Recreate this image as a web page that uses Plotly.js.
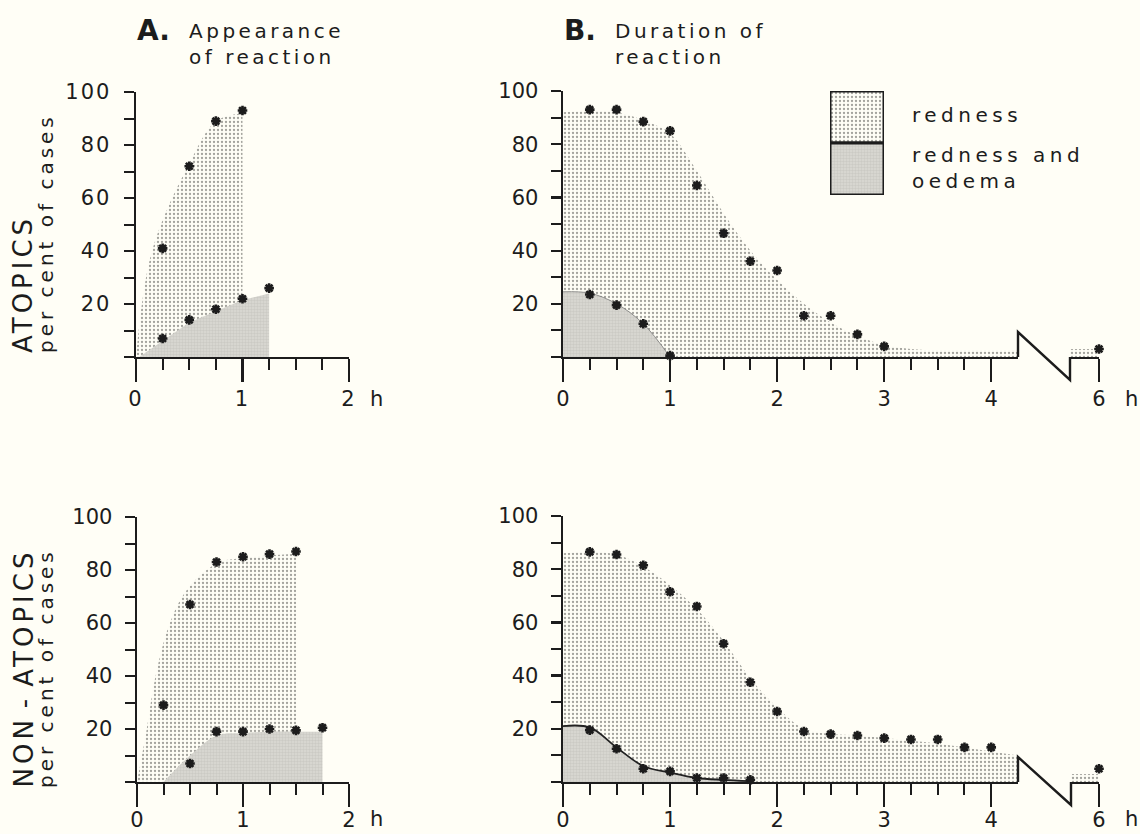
<!DOCTYPE html>
<html>
<head>
<meta charset="utf-8">
<script src="https://cdn.plot.ly/plotly-3.0.1.min.js"></script>
<style>
  html, body { margin: 0; padding: 0; background: #fffef6; }
  #chart { width: 1140px; height: 834px; }
  .xtick text, .ytick text { letter-spacing: 2px; }
</style>
</head>
<body>
<div id="chart"></div>
<script>
// ---------------- DATA ----------------
// Panel A (appearance of reaction), atopics — observed points
const aTopRednessT = [0.25, 0.5, 0.75, 1.0];
const aTopRednessV = [41, 72, 89, 93];
const aTopOedemaT  = [0.25, 0.5, 0.75, 1.0, 1.25];
const aTopOedemaV  = [7, 14, 18, 22, 26];
// fitted shaded areas
const aTopRednessCurveT = [0, 0.15, 0.5, 0.75, 1.0];
const aTopRednessCurveV = [0, 40, 73, 89, 92];
const aTopOedemaCurveT  = [0.03, 0.5, 1.0, 1.25];
const aTopOedemaCurveV  = [0, 13, 21.5, 24];

// Panel A, non-atopics
const aBotRednessT = [0.25, 0.5, 0.75, 1.0, 1.25, 1.5];
const aBotRednessV = [29, 67, 83, 85, 86, 87];
const aBotOedemaT  = [0.5, 0.75, 1.0, 1.25, 1.5, 1.75];
const aBotOedemaV  = [7, 19, 19, 20, 19.5, 20.5];
const aBotRednessCurveT = [0, 0.09, 0.17, 0.31, 0.47, 0.75, 1.0, 1.25, 1.5];
const aBotRednessCurveV = [0, 19.5, 39, 60, 72.5, 82.5, 84.5, 85.5, 86];
const aBotOedemaCurveT  = [0.25, 0.5, 0.75, 1.0, 1.25, 1.5, 1.75];
const aBotOedemaCurveV  = [0, 10, 17.5, 18.5, 19, 19, 19];

// Panel B (duration of reaction), atopics
const bTopRednessT = [0.25, 0.5, 0.75, 1.0, 1.25, 1.5, 1.75, 2.0, 2.25, 2.5, 2.75, 3.0];
const bTopRednessV = [93, 93, 88.5, 85, 64.5, 46.5, 36, 32.5, 15.5, 15.5, 8.5, 4];
const bTopRedness6T = [6];
const bTopRedness6V = [3];
const bTopOedemaT  = [0.25, 0.5, 0.75, 1.0];
const bTopOedemaV  = [23.5, 19.5, 12.5, 0.5];
const bTopRednessCurveT = [0, 0.25, 0.5, 0.75, 1.0, 1.25, 1.5, 1.75, 2.0, 2.25, 2.5, 2.75, 3.0, 3.25, 3.5, 3.75, 4.0, 4.25];
const bTopRednessCurveV = [92, 92.5, 92, 89, 84, 70, 54, 40, 29, 20, 13, 8, 4.5, 3, 2.5, 2.5, 2.5, 2.5];
const bTopRedness6CurveT = [5.75, 6.0];
const bTopRedness6CurveV = [3, 3];
const bTopOedemaCurveT = [0, 0.25, 0.5, 0.75, 1.0];
const bTopOedemaCurveV = [24.5, 24, 20, 12.5, 0];

// Panel B, non-atopics
const bBotRednessT = [0.25, 0.5, 0.75, 1.0, 1.25, 1.5, 1.75, 2.0, 2.25, 2.5, 2.75, 3.0, 3.25, 3.5, 3.75, 4.0];
const bBotRednessV = [86.5, 85.5, 81.5, 71.5, 66, 52, 37.5, 26.5, 19, 18, 17.5, 16.5, 16, 16, 13, 13];
const bBotRedness6T = [6];
const bBotRedness6V = [5];
const bBotOedemaT  = [0.25, 0.5, 0.75, 1.0, 1.25, 1.5, 1.75];
const bBotOedemaV  = [19.5, 12.5, 5, 4, 1.5, 1.5, 0.8];
const bBotRednessCurveT = [0, 0.25, 0.5, 0.75, 1.0, 1.25, 1.5, 1.75, 2.0, 2.25, 2.5, 2.75, 3.0, 3.25, 3.5, 3.75, 4.0, 4.25];
const bBotRednessCurveV = [86, 86.5, 85.5, 81, 74, 65, 53, 39, 28, 20, 18, 17.5, 16.5, 15.5, 14.5, 13, 11.5, 10];
const bBotRedness6CurveT = [5.75, 6.0];
const bBotRedness6CurveV = [3, 3];
const bBotOedemaCurveT = [0, 0.25, 0.5, 0.75, 1.0, 1.25, 1.5, 1.75];
const bBotOedemaCurveV = [21, 20.5, 13, 6, 3.5, 1.5, 0.8, 0.3];

// tick labels
const yTickVals = [0, 20, 40, 60, 80, 100];
const yTickText = ['', '20', '40', '60', '80', '100'];
const yMinorVals = [10, 30, 50, 70, 90];

// ---------------- STYLE ----------------
const W = 1140, H = 834;
const BG = '#fffef6';
const INK = '#1c1c1c';
const FONT = 'DejaVu Sans';
const px = v => v / W;
const py = v => 1 - v / H;

const rednessPattern = {shape: '.', size: 4, solidity: 0.26, fgcolor: '#a3a39d', bgcolor: BG, fillmode: 'replace'};
const oedemaPattern  = {shape: '.', size: 3, solidity: 0.5, fgcolor: '#cbcac4', bgcolor: '#dcdbd5', fillmode: 'replace'};

function areaTrace(x, y, xa, ya, pattern, shape, lineW, lineC) {
  return {x: x, y: y, xaxis: xa, yaxis: ya, type: 'scatter', mode: 'lines',
    line: {width: lineW || 0, color: lineC || 'rgba(0,0,0,0)', shape: shape, smoothing: 1},
    fill: 'tozeroy', fillpattern: pattern, fillcolor: pattern.bgcolor,
    hoverinfo: 'skip', showlegend: false};
}
function starTrace(x, y, xa, ya) {
  return {x: x, y: y, xaxis: xa, yaxis: ya, type: 'scatter', mode: 'markers',
    marker: {symbol: 'asterisk-open', size: 8, line: {width: 2.6, color: INK}, color: INK},
    cliponaxis: false, showlegend: false, hoverinfo: 'x+y'};
}

const traces = [
  // A top
  areaTrace(aTopRednessCurveT, aTopRednessCurveV, 'x', 'y', rednessPattern, 'spline'),
  areaTrace(aTopOedemaCurveT, aTopOedemaCurveV, 'x', 'y', oedemaPattern, 'linear'),
  starTrace(aTopRednessT, aTopRednessV, 'x', 'y'),
  starTrace(aTopOedemaT, aTopOedemaV, 'x', 'y'),
  // B top
  areaTrace(bTopRednessCurveT, bTopRednessCurveV, 'x2', 'y2', rednessPattern, 'spline'),
  areaTrace(bTopRedness6CurveT, bTopRedness6CurveV, 'x3', 'y2', rednessPattern, 'linear'),
  areaTrace(bTopOedemaCurveT, bTopOedemaCurveV, 'x2', 'y2', oedemaPattern, 'spline', 0.8, '#777'),
  starTrace(bTopRednessT, bTopRednessV, 'x2', 'y2'),
  starTrace(bTopRedness6T, bTopRedness6V, 'x3', 'y2'),
  starTrace(bTopOedemaT, bTopOedemaV, 'x2', 'y2'),
  // A bottom
  areaTrace(aBotRednessCurveT, aBotRednessCurveV, 'x4', 'y4', rednessPattern, 'spline'),
  areaTrace(aBotOedemaCurveT, aBotOedemaCurveV, 'x4', 'y4', oedemaPattern, 'spline'),
  starTrace(aBotRednessT, aBotRednessV, 'x4', 'y4'),
  starTrace(aBotOedemaT, aBotOedemaV, 'x4', 'y4'),
  // B bottom
  areaTrace(bBotRednessCurveT, bBotRednessCurveV, 'x5', 'y5', rednessPattern, 'spline'),
  areaTrace(bBotRedness6CurveT, bBotRedness6CurveV, 'x6', 'y5', rednessPattern, 'linear'),
  areaTrace(bBotOedemaCurveT, bBotOedemaCurveV, 'x5', 'y5', oedemaPattern, 'spline', 1.8, '#222'),
  starTrace(bBotRednessT, bBotRednessV, 'x5', 'y5'),
  starTrace(bBotRedness6T, bBotRedness6V, 'x6', 'y5'),
  starTrace(bBotOedemaT, bBotOedemaV, 'x5', 'y5'),
  // legend swatches
  {x: [0, 1, 1, 0, 0], y: [1, 1, 2, 2, 1], xaxis: 'x7', yaxis: 'y7', type: 'scatter', mode: 'lines',
   fill: 'toself', fillpattern: rednessPattern, line: {color: INK, width: 3}, hoverinfo: 'skip', showlegend: false},
  {x: [0, 1, 1, 0, 0], y: [0, 0, 1, 1, 0], xaxis: 'x7', yaxis: 'y7', type: 'scatter', mode: 'lines',
   fill: 'toself', fillpattern: oedemaPattern, line: {color: INK, width: 3}, hoverinfo: 'skip', showlegend: false}
];

const tickFont = {family: FONT, size: 21, color: INK};

function xAxis(domPx, range, anchor, majorVals, minorVals, standoff) {
  return {
    domain: [px(domPx[0]), px(domPx[1])], range: range, anchor: anchor,
    showgrid: false, zeroline: false, showline: true, linecolor: INK, linewidth: 2.4,
    tickmode: 'array', tickvals: majorVals, ticktext: majorVals.map(String),
    ticks: 'outside', ticklen: 23, tickwidth: 2.2, tickcolor: INK,
    ticklabelstandoff: standoff, tickfont: tickFont, fixedrange: true,
    minor: {tickmode: 'array', tickvals: minorVals, ticks: 'outside', ticklen: 11, tickwidth: 2, tickcolor: INK, showgrid: false}
  };
}
function yAxis(bottomPx, topPx, anchor) {
  return {
    domain: [py(bottomPx), py(topPx)], range: [0, 100], anchor: anchor,
    showgrid: false, zeroline: false, showline: true, linecolor: INK, linewidth: 2.4,
    tickmode: 'array', tickvals: yTickVals, ticktext: yTickText,
    ticks: 'outside', ticklen: 10, tickwidth: 2.2, tickcolor: INK,
    ticklabelstandoff: 8, tickfont: tickFont, fixedrange: true,
    minor: {tickmode: 'array', tickvals: yMinorVals, ticks: 'outside', ticklen: 10, tickwidth: 2, tickcolor: INK, showgrid: false}
  };
}
const minorA = [0.25, 0.5, 0.75, 1.25, 1.5, 1.75];
const minorB = [0.25, 0.5, 0.75, 1.25, 1.5, 1.75, 2.25, 2.5, 2.75, 3.25, 3.5, 3.75];

// geometry (pixels)
const G = {
  aTop: {x0: 136, x1: 349, yb: 357, yt: 92},
  bTop: {x0: 563, x1: 1018, x2: 1070, x3: 1099, yb: 357, yt: 91},
  aBot: {x0: 137, x1: 349, yb: 782, yt: 517},
  bBot: {x0: 563, x1: 1018, x2: 1071, x3: 1099, yb: 782, yt: 516}
};

function zigzag(g) {
  const up = g.yb - 25, down = g.yb + 23;
  return {type: 'path', xref: 'paper', yref: 'paper',
    path: `M ${px(g.x1)} ${py(g.yb)} L ${px(g.x1)} ${py(up)} L ${px(g.x2)} ${py(down)} L ${px(g.x2)} ${py(g.yb)}`,
    line: {color: INK, width: 2.4}};
}

const sp = (t, ls) => `<span style="letter-spacing:${ls}px">${t}</span>`;
function ann(text, x, y, size, opts) {
  return Object.assign({text: text, x: px(x), y: py(y), xref: 'paper', yref: 'paper',
    showarrow: false, xanchor: 'left', yanchor: 'middle',
    font: {family: FONT, size: size, color: INK}, align: 'left'}, opts || {});
}

const annotations = [
  ann('<b>A.</b>', 135, 31, 28),
  ann(sp('Appearance', 3.5) + '<br>' + sp('of reaction', 3.5), 187, 44, 20),
  ann('<b>B.</b>', 562, 31, 28),
  ann(sp('Duration of', 3.5) + '<br>' + sp('reaction', 3.5), 613, 44, 20),
  ann(sp('ATOPICS', 4), 23, 355, 26, {textangle: -90, xanchor: 'center', yanchor: 'bottom'}),
  ann(sp('per cent of cases', 4), 46, 355, 20, {textangle: -90, xanchor: 'center', yanchor: 'bottom'}),
  ann('<span style="letter-spacing:4px">NO</span><span style="letter-spacing:12px">N-</span><span style="letter-spacing:4px">ATOPICS</span>', 23, 790, 26, {textangle: -90, xanchor: 'center', yanchor: 'bottom'}),
  ann(sp('per cent of cases', 4), 46, 790, 20, {textangle: -90, xanchor: 'center', yanchor: 'bottom'}),
  ann('h', 377, 399, 21, {xanchor: 'center'}),
  ann('h', 1131, 399, 21, {xanchor: 'center'}),
  ann('h', 377, 819, 21, {xanchor: 'center'}),
  ann('h', 1131, 819, 21, {xanchor: 'center'}),
  ann(sp('redness', 4.5), 910, 115, 20),
  ann(sp('redness and', 4.5) + '<br>' + sp('oedema', 4.5), 910, 168, 20)
];

const layout = {
  width: W, height: H,
  margin: {l: 0, r: 0, t: 0, b: 0, pad: 0},
  paper_bgcolor: BG, plot_bgcolor: 'rgba(0,0,0,0)',
  showlegend: false,
  xaxis:  xAxis([G.aTop.x0, G.aTop.x1], [0, 2], 'y', [0, 1, 2], minorA, -2),
  yaxis:  yAxis(G.aTop.yb, G.aTop.yt, 'x'),
  xaxis2: xAxis([G.bTop.x0, G.bTop.x1], [0, 4.25], 'y2', [0, 1, 2, 3, 4], minorB, -2),
  yaxis2: yAxis(G.bTop.yb, G.bTop.yt, 'x2'),
  xaxis3: xAxis([G.bTop.x2, G.bTop.x3], [5.75, 6], 'y2', [6], [], -2),
  xaxis4: xAxis([G.aBot.x0, G.aBot.x1], [0, 2], 'y4', [0, 1, 2], minorA, -6),
  yaxis4: yAxis(G.aBot.yb, G.aBot.yt, 'x4'),
  xaxis5: xAxis([G.bBot.x0, G.bBot.x1], [0, 4.25], 'y5', [0, 1, 2, 3, 4], minorB, -6),
  yaxis5: yAxis(G.bBot.yb, G.bBot.yt, 'x5'),
  xaxis6: xAxis([G.bBot.x2, G.bBot.x3], [5.75, 6], 'y5', [6], [], -6),
  xaxis7: {domain: [px(830), px(884)], range: [0, 1], anchor: 'y7', visible: false, fixedrange: true},
  yaxis7: {domain: [py(195), py(91)], range: [0, 2], anchor: 'x7', visible: false, fixedrange: true},
  shapes: [zigzag(G.bTop), zigzag(G.bBot)],
  annotations: annotations
};

Plotly.newPlot('chart', traces, layout, {staticPlot: true, displayModeBar: false});
</script>
</body>
</html>
